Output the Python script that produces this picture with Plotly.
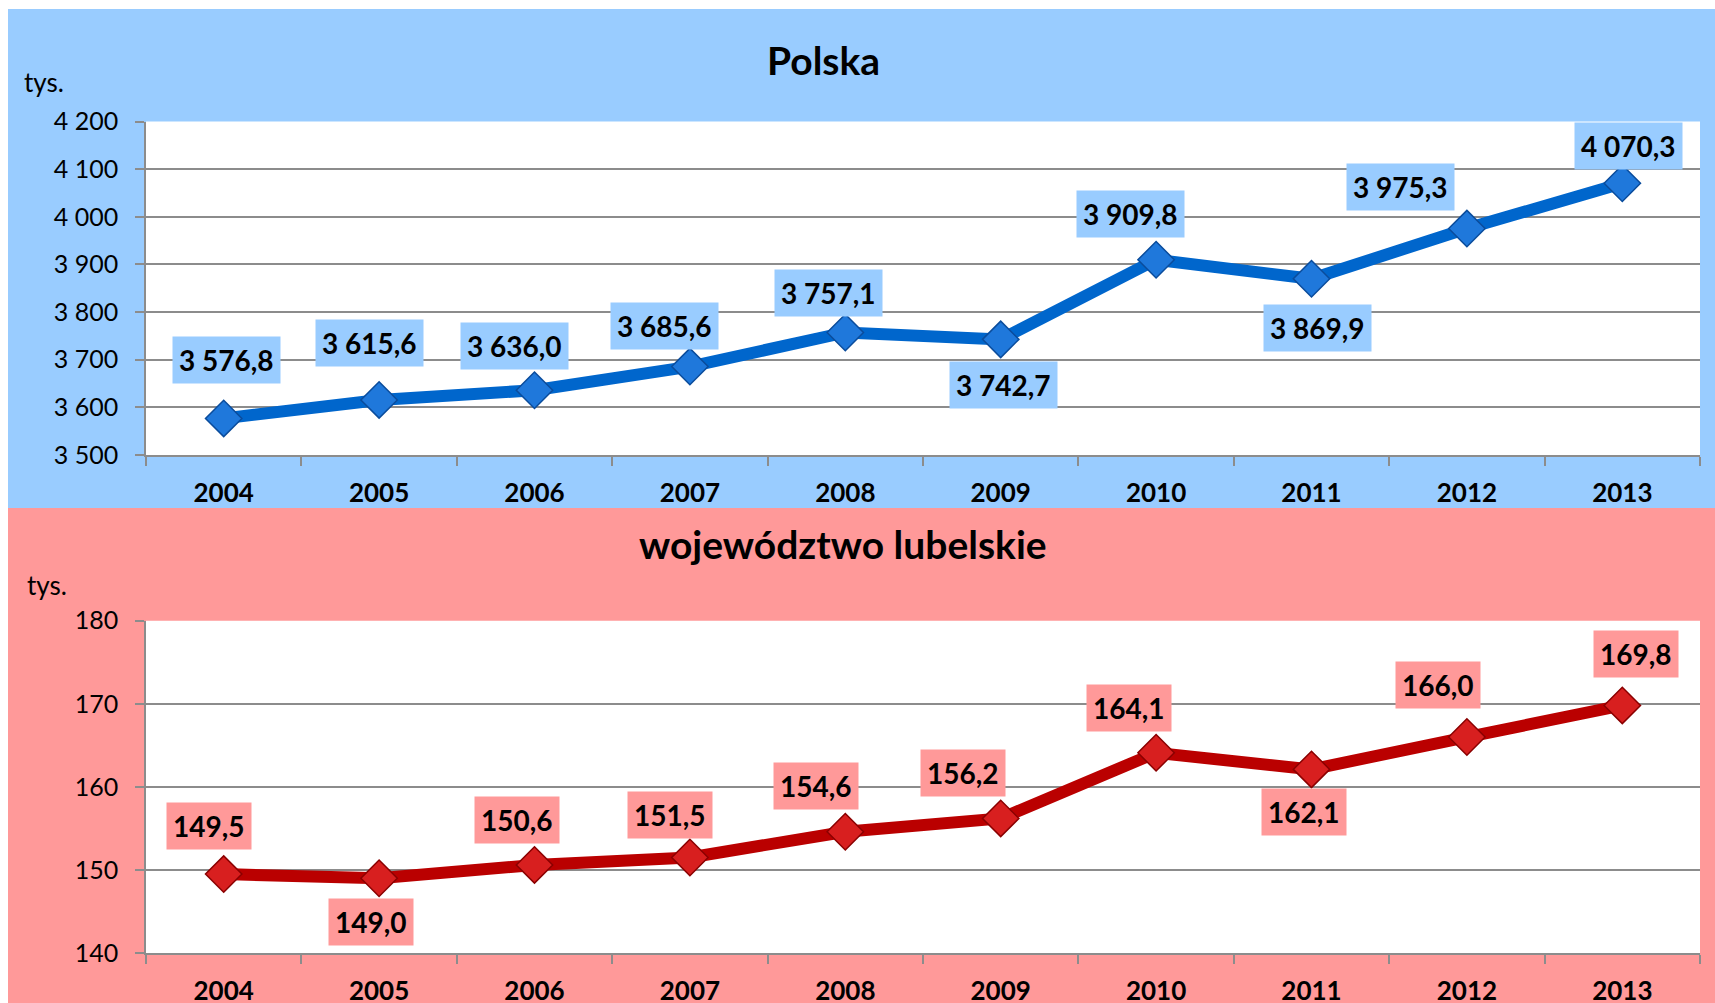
import plotly.graph_objects as go

# ---------------- data ----------------
years = ["2004", "2005", "2006", "2007", "2008", "2009", "2010", "2011", "2012", "2013"]
polska = [3576.8, 3615.6, 3636.0, 3685.6, 3757.1, 3742.7, 3909.8, 3869.9, 3975.3, 4070.3]
lubelskie = [149.5, 149.0, 150.6, 151.5, 154.6, 156.2, 164.1, 162.1, 166.0, 169.8]
ticks_polska = [3500, 3600, 3700, 3800, 3900, 4000, 4100, 4200]
ticks_lubelskie = [140, 150, 160, 170, 180]
titles = ["Polska", "województwo lubelskie"]
unit = "tys."

# label placement (pixel offsets of each data label relative to its point)
shift_polska = [(3, -58), (-10, -57), (-20, -44), (-25, -41), (-17, -40),
                (3, 46), (-26, -46), (6, 49), (-66, -42), (6, -37)]
shift_lubelskie = [(-15, -48), (-8, 44), (-18, -45), (-20, -42), (-29, -46),
                   (-38, -45), (-27, -45), (-8, 43), (-29, -52), (14, -51)]

# ---------------- style ----------------
W, H = 1715, 1003
BLUE_BG = "#99CCFF"
PINK_BG = "#FF9999"
GRID = "#8C8C8C"
FONT = "Lato"


def fx(x):
    return x / W


def fy(y):
    return 1 - y / H


def fmt(v):
    s = f"{v:,.1f}"
    return s.replace(",", " ").replace(".", ",")


fig = go.Figure()

fig.add_trace(go.Scatter(
    x=years, y=polska, mode="lines+markers", xaxis="x", yaxis="y",
    line=dict(color="#0066CC", width=12),
    marker=dict(symbol="diamond", size=28, color="#1F78DB",
                line=dict(color="#0A4C9C", width=1.5)),
    hoverinfo="skip", showlegend=False,
))
fig.add_trace(go.Scatter(
    x=years, y=lubelskie, mode="lines+markers", xaxis="x2", yaxis="y2",
    line=dict(color="#BA0000", width=12),
    marker=dict(symbol="diamond", size=28, color="#D81F1F",
                line=dict(color="#8A0000", width=1.5)),
    hoverinfo="skip", showlegend=False,
))

shapes = [
    dict(type="rect", xref="paper", yref="paper", x0=fx(8), x1=1, y0=fy(508), y1=fy(9),
         fillcolor=BLUE_BG, line=dict(width=0), layer="below"),
    dict(type="rect", xref="paper", yref="paper", x0=fx(8), x1=1, y0=0, y1=fy(508),
         fillcolor=PINK_BG, line=dict(width=0), layer="below"),
    dict(type="rect", xref="paper", yref="paper", x0=fx(146), x1=fx(1700), y0=fy(455), y1=fy(121.5),
         fillcolor="white", line=dict(width=0), layer="below"),
    dict(type="rect", xref="paper", yref="paper", x0=fx(146), x1=fx(1700), y0=fy(953), y1=fy(620.7),
         fillcolor="white", line=dict(width=0), layer="below"),
]

annotations = []
for i, (v, (dx, dy)) in enumerate(zip(polska, shift_polska)):
    annotations.append(dict(
        x=i, y=v, xref="x", yref="y", text=fmt(v), showarrow=False,
        xanchor="center", yanchor="middle",
        xshift=dx, yshift=-dy, bgcolor=BLUE_BG, borderpad=6,
        font=dict(family=FONT, size=28, color="black", weight="bold"),
    ))
for i, (v, (dx, dy)) in enumerate(zip(lubelskie, shift_lubelskie)):
    annotations.append(dict(
        x=i, y=v, xref="x2", yref="y2", text=fmt(v), showarrow=False,
        xanchor="center", yanchor="middle",
        xshift=dx, yshift=-dy, bgcolor=PINK_BG, borderpad=6,
        font=dict(family=FONT, size=28, color="black", weight="bold"),
    ))

# titles and unit labels
annotations.append(dict(x=fx(823.5), y=fy(60), xref="paper", yref="paper", text=titles[0],
                        showarrow=False, xanchor="center", yanchor="middle",
                        font=dict(family=FONT, size=39, color="black", weight="bold")))
annotations.append(dict(x=fx(842.5), y=fy(544), xref="paper", yref="paper", text=titles[1],
                        showarrow=False, xanchor="center", yanchor="middle",
                        font=dict(family=FONT, size=39, color="black", weight="bold")))
annotations.append(dict(x=fx(22), y=fy(82), xref="paper", yref="paper", text=unit,
                        showarrow=False, xanchor="left", yanchor="middle",
                        font=dict(family=FONT, size=26, color="black")))
annotations.append(dict(x=fx(25), y=fy(585), xref="paper", yref="paper", text=unit,
                        showarrow=False, xanchor="left", yanchor="middle",
                        font=dict(family=FONT, size=26, color="black")))

xaxis_common = dict(
    type="category", categoryorder="array", categoryarray=years,
    range=[-0.5, len(years) - 0.5], automargin=False,
    tickson="boundaries", ticks="outside", ticklen=9, tickwidth=1.5, tickcolor=GRID,
    showline=True, linecolor=GRID, linewidth=1.5, showgrid=False, zeroline=False,
    tickfont=dict(family=FONT, size=26, color="black", weight="bold"),
    ticklabelstandoff=14, fixedrange=True,
)
yaxis_common = dict(
    showgrid=True, gridcolor=GRID, gridwidth=1.5, showline=True, linecolor=GRID, linewidth=1.5,
    ticks="outside", ticklen=9, tickwidth=1.5, tickcolor=GRID, zeroline=False, automargin=False,
    tickfont=dict(family=FONT, size=25, color="black"), tickformat=",d",
    ticklabelstandoff=12, fixedrange=True,
)

fig.update_layout(
    width=W, height=H, autosize=False,
    margin=dict(l=0, r=0, t=0, b=0, pad=0, autoexpand=False),
    paper_bgcolor="white", plot_bgcolor="white",
    separators=", ",
    showlegend=False,
    font=dict(family=FONT, color="black"),
    xaxis=dict(domain=[fx(146), fx(1700)], anchor="y", **xaxis_common),
    yaxis=dict(domain=[fy(455), fy(121.5)], anchor="x", range=[3500, 4200],
               tickvals=ticks_polska, **yaxis_common),
    xaxis2=dict(domain=[fx(146), fx(1700)], anchor="y2", **xaxis_common),
    yaxis2=dict(domain=[fy(953), fy(620.7)], anchor="x2", range=[140, 180],
                tickvals=ticks_lubelskie, **yaxis_common),
    shapes=shapes,
    annotations=annotations,
)

post = "document.body.style.margin='0px';document.body.style.overflow='hidden';"

fig.write_html("out.html", config={"displayModeBar": False}, post_script=post)
